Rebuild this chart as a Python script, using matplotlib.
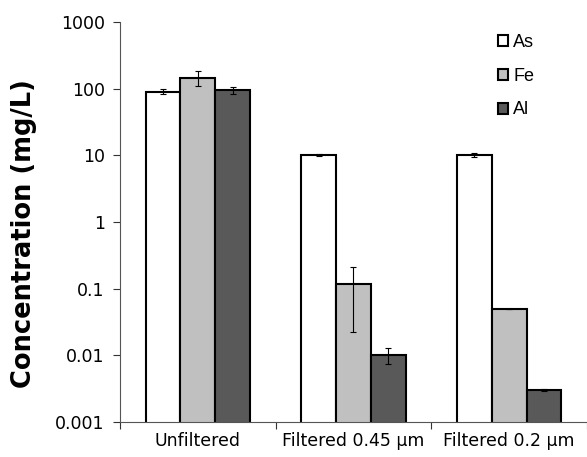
import numpy as np
import matplotlib
matplotlib.use("Agg")
import matplotlib.pyplot as plt
from matplotlib.ticker import FixedLocator, NullLocator

categories = ["Unfiltered", "Filtered 0.45 \u00b5m", "Filtered 0.2 \u00b5m"]
series = ["As", "Fe", "Al"]
as_vals = [90, 10, 10]
as_err = [8, 0.3, 0.7]
fe_vals = [145, 0.117, 0.05]
fe_err = [37, 0.095, 0.0]
al_vals = [95, 0.0102, 0.003]
al_err = [11, 0.0027, 0.0001]

colors = ["#ffffff", "#c0c0c0", "#595959"]

fig = plt.figure(figsize=(5.87, 4.57), dpi=100)
ax = fig.add_axes([0.2044, 0.0766, 0.7956, 0.8753])

x = np.arange(len(categories))
w = 0.224
vals = [as_vals, fe_vals, al_vals]
errs = [as_err, fe_err, al_err]
for i in range(3):
    ax.bar(x + (i - 1) * w, vals[i], w, color=colors[i], edgecolor="black",
           linewidth=1.5, label=series[i], zorder=2)
    ax.errorbar(x + (i - 1) * w, vals[i], yerr=errs[i], fmt="none",
                ecolor="black", elinewidth=0.8, capsize=2, capthick=0.8, zorder=3)

ax.set_yscale("log")
ax.set_ylim(0.001, 1000)
ax.set_xlim(-0.5, 2.5)
ax.yaxis.set_major_locator(FixedLocator([0.001, 0.01, 0.1, 1, 10, 100, 1000]))
ax.yaxis.set_minor_locator(NullLocator())
ax.set_yticklabels(["0.001", "0.01", "0.1", "1", "10", "100", "1000"])
ax.set_xticks(x)
ax.set_xticklabels(categories)
ax.xaxis.set_minor_locator(FixedLocator([-0.5, 0.5, 1.5, 2.5]))
ax.tick_params(axis="x", which="major", length=0, pad=7, labelsize=12.5)
ax.tick_params(axis="x", which="minor", length=5, width=0.8, color="#333333")
ax.tick_params(axis="y", length=5, width=0.8, color="#333333", labelsize=12.5, pad=6)

for s in ["top", "right"]:
    ax.spines[s].set_visible(False)
for s in ["left", "bottom"]:
    ax.spines[s].set_color("#555555")
    ax.spines[s].set_linewidth(0.8)

ax.set_ylabel("Concentration (mg/L)", fontsize=18.5, fontweight="bold")
ax.yaxis.set_label_coords(-0.178, 0.47)

ax.legend(loc="upper left", bbox_to_anchor=(0.848, 0.925),
          bbox_transform=fig.transFigure, frameon=False,
          borderpad=0, borderaxespad=0,
          prop={"family": "Liberation Sans", "size": 13},
          handlelength=0.55, handleheight=0.55, handletextpad=0.3, labelspacing=0.92)

fig.savefig("out.png", dpi=100)
